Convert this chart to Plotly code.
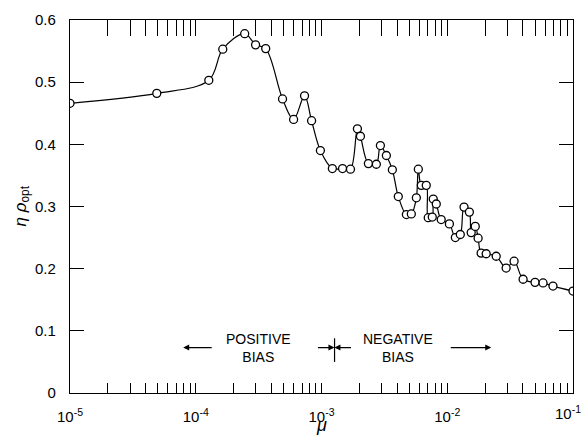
import plotly.graph_objects as go

# mu values and the optimal efficiency product eta*rho_opt
mu = [1.0e-5, 4.9e-5, 1.27e-4, 1.64e-4, 2.45e-4, 2.99e-4, 3.60e-4, 4.90e-4,
      6.0e-4, 7.33e-4, 8.34e-4, 9.8e-4, 1.22e-3, 1.47e-3, 1.70e-3, 1.93e-3,
      2.04e-3, 2.36e-3, 2.73e-3, 2.94e-3, 3.28e-3, 3.66e-3, 4.08e-3, 4.73e-3,
      5.18e-3, 5.68e-3, 5.89e-3, 6.22e-3, 6.81e-3, 7.06e-3, 7.60e-3, 7.74e-3,
      8.18e-3, 8.95e-3, 1.04e-2, 1.16e-2, 1.27e-2, 1.36e-2, 1.50e-2, 1.55e-2,
      1.67e-2, 1.76e-2, 1.86e-2, 2.04e-2, 2.45e-2, 2.94e-2, 3.40e-2, 4.01e-2,
      4.99e-2, 5.78e-2, 6.93e-2, 1.0e-1]
eta_rho = [0.466, 0.482, 0.503, 0.553, 0.578, 0.560, 0.554, 0.473,
           0.440, 0.478, 0.438, 0.390, 0.361, 0.361, 0.360, 0.425,
           0.413, 0.369, 0.368, 0.398, 0.382, 0.359, 0.316, 0.287,
           0.288, 0.314, 0.360, 0.334, 0.334, 0.282, 0.283, 0.312,
           0.304, 0.279, 0.272, 0.250, 0.255, 0.299, 0.291, 0.258,
           0.268, 0.249, 0.225, 0.224, 0.220, 0.201, 0.212, 0.183,
           0.178, 0.177, 0.172, 0.164]

decades = [-5, -4, -3, -2, -1]
y_ticks = [0, 0.1, 0.2, 0.3, 0.4, 0.5, 0.6]
y_tick_labels = ["0", "0.1", "0.2", "0.3", "0.4", "0.5", "0.6"]
boundary_mu = 1.27e-3

# log tick positions 1..9 x 10^k, labelled at the decades; the last decade
# label sits at the page edge and is placed separately so it stays visible
tickvals, ticktext = [], []
for d in decades:
    for m in range(1, 10):
        if d == decades[-1] and m > 1:
            break
        tickvals.append(m * 10.0 ** d)
        label = f"10<sup>{d}</sup>" if m == 1 else ""
        ticktext.append("" if d == decades[-1] else label)

FONT = "Liberation Sans, Arial, sans-serif"

fig = go.Figure()
fig.add_trace(go.Scatter(
    x=mu, y=eta_rho, mode="lines+markers",
    line=dict(color="black", width=1.2, shape="spline", smoothing=1.0),
    marker=dict(symbol="circle", size=8, color="white",
                line=dict(color="black", width=1.3)),
    showlegend=False, hoverinfo="skip"))
# invisible trace so the top axis is drawn
fig.add_trace(go.Scatter(x=[mu[0]], y=[eta_rho[0]], xaxis="x2", mode="markers",
                         marker=dict(opacity=0), showlegend=False,
                         hoverinfo="skip"))

fig.update_layout(
    width=585, height=440,
    margin=dict(l=70, r=11, t=15, b=47),
    paper_bgcolor="white", plot_bgcolor="white",
    font=dict(family=FONT, color="black", size=15),
    xaxis=dict(type="log", range=[-5, -1], tickvals=tickvals, ticktext=ticktext,
               ticks="inside", ticklen=10, tickwidth=1, tickcolor="black",
               showline=True, linecolor="black", linewidth=1.2,
               showgrid=False, zeroline=False, ticklabelstandoff=10,
               tickfont=dict(size=15)),
    xaxis2=dict(type="log", range=[-5, -1], overlaying="x", side="top",
                tickvals=tickvals, showticklabels=False,
                ticks="inside", ticklen=16, tickwidth=1, tickcolor="black",
                showline=True, linecolor="black", linewidth=1.2,
                showgrid=False, zeroline=False),
    yaxis=dict(range=[0, 0.6], tickvals=y_ticks, ticktext=y_tick_labels,
               ticks="inside", ticklen=14, tickwidth=1, tickcolor="black",
               showline=True, linecolor="black", linewidth=1.2, mirror="ticks",
               showgrid=False, zeroline=False, ticklabelstandoff=10,
               tickfont=dict(size=15)),
)

# last decade label at the right edge
fig.add_annotation(text=f"10<sup>{decades[-1]}</sup>", x=decades[-1], xref="x",
                   y=0, yref="paper", xanchor="right", xshift=10,
                   yanchor="middle", yshift=-19, showarrow=False,
                   font=dict(size=15))

# axis titles
fig.add_annotation(text="<i>μ</i>", xref="paper", yref="paper", x=0.5, y=0,
                   yshift=-44, yanchor="bottom", showarrow=False,
                   font=dict(size=18))
fig.add_annotation(text="<i>η ρ</i><sub>opt</sub>", xref="paper", yref="paper",
                   x=0, y=0.5, xshift=-62, textangle=-90, showarrow=False,
                   font=dict(size=17))

# bias region labels
fig.add_annotation(text="POSITIVE<br>BIAS", x=-3.5, y=0.073, xref="x", yref="y",
                   showarrow=False, font=dict(size=14), align="center")
fig.add_annotation(text="NEGATIVE<br>BIAS", x=-2.39, y=0.073, xref="x", yref="y",
                   showarrow=False, font=dict(size=14), align="center")

arrow = dict(showarrow=True, arrowhead=2, arrowsize=1, arrowwidth=1.2,
             arrowcolor="black", text="", xref="x", yref="y", axref="pixel",
             ayref="pixel")
# side arrows
fig.add_annotation(x=-4.1, y=0.073, ax=30, ay=0, **arrow)
fig.add_annotation(x=-1.65, y=0.073, ax=-42, ay=0, **arrow)
# boundary marker
fig.add_shape(type="line", xref="x", yref="y",
              x0=boundary_mu, x1=boundary_mu, y0=0.05, y1=0.088,
              line=dict(color="black", width=1.2))
fig.add_annotation(x=-2.897, y=0.073, ax=-18, ay=0, **arrow)
fig.add_annotation(x=-2.897, y=0.073, ax=18, ay=0, **arrow)

fig.write_html("out.html")
